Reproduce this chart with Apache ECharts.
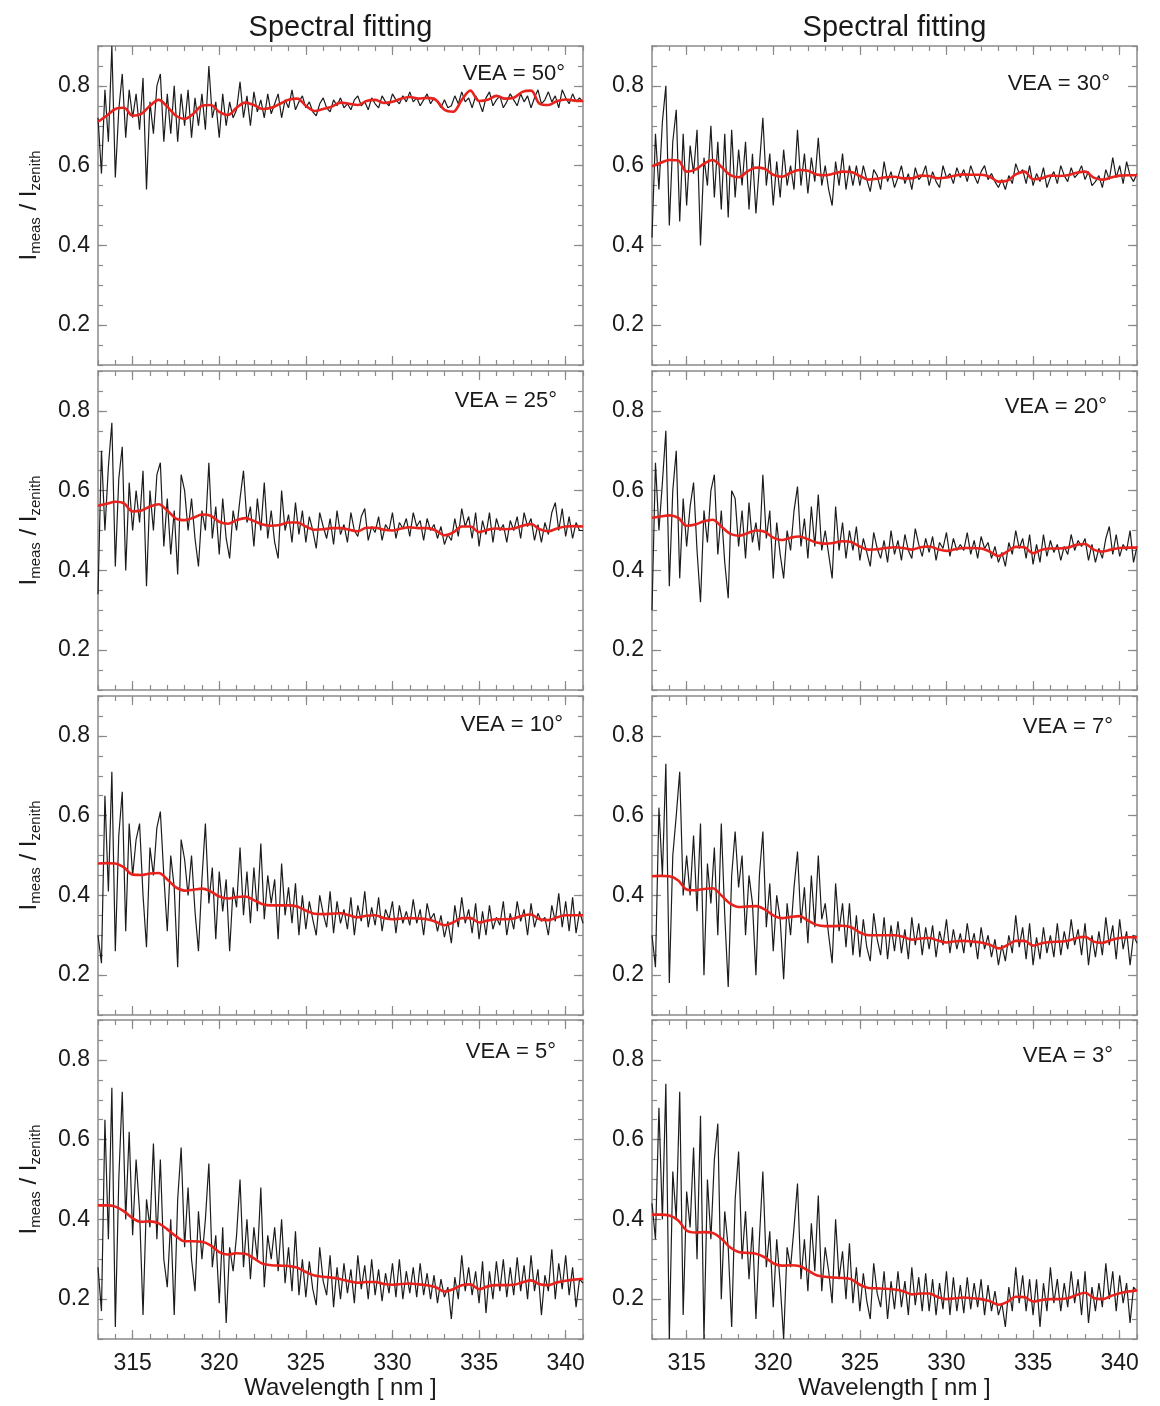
<!DOCTYPE html>
<html><head><meta charset="utf-8">
<script src="https://cdn.jsdelivr.net/npm/echarts@6/dist/echarts.min.js"></script>
<style>html,body{margin:0;padding:0;background:#fff}#chart{width:1160px;height:1406px}</style>
</head><body><div id="chart"></div>
<script>
// ---------------- data ----------------
const WL_MIN = 313, WL_MAX = 341;
const xTickValues = [315, 320, 325, 330, 335, 340];
const yTickValues = [0.2, 0.4, 0.6, 0.8];
const columnTitles = ['Spectral fitting', 'Spectral fitting'];
const veaAngles = [50, 30, 25, 20, 10, 7, 5, 3];
const measStart = 313, measStep = 0.2;   // wavelength grid of measured ratio
const fitStart = 313, fitStep = 0.5;     // wavelength grid of fitted ratio

const meas50 = [
0.72,0.58,0.79,0.66,0.9,0.57,0.74,0.83,0.67,0.79,
0.72,0.78,0.69,0.82,0.54,0.76,0.68,0.8,0.83,0.66,
0.78,0.68,0.8,0.66,0.78,0.7,0.79,0.67,0.77,0.7,
0.78,0.69,0.85,0.72,0.76,0.67,0.78,0.7,0.76,0.72,
0.74,0.81,0.72,0.775,0.7,0.785,0.735,0.765,0.72,0.78,
0.73,0.755,0.78,0.72,0.765,0.745,0.79,0.74,0.76,0.775,
0.745,0.76,0.735,0.725,0.755,0.77,0.745,0.735,0.765,0.75,
0.77,0.745,0.755,0.74,0.765,0.775,0.75,0.76,0.74,0.77,
0.755,0.745,0.775,0.76,0.75,0.78,0.765,0.755,0.775,0.76,
0.785,0.76,0.77,0.75,0.765,0.78,0.755,0.77,0.76,0.745,
0.765,0.745,0.75,0.775,0.755,0.785,0.76,0.77,0.745,0.775,
0.76,0.735,0.77,0.785,0.75,0.765,0.775,0.745,0.76,0.78,
0.765,0.75,0.78,0.76,0.775,0.745,0.77,0.79,0.755,0.765,
0.785,0.76,0.775,0.745,0.79,0.77,0.755,0.78,0.76,0.77,
0.76];
const meas30 = [
0.42,0.68,0.54,0.71,0.8,0.45,0.66,0.74,0.46,0.68,
0.5,0.65,0.58,0.69,0.4,0.62,0.55,0.7,0.52,0.66,
0.49,0.68,0.47,0.69,0.52,0.64,0.55,0.66,0.49,0.63,
0.48,0.6,0.72,0.55,0.63,0.5,0.61,0.52,0.64,0.55,
0.6,0.54,0.69,0.55,0.63,0.53,0.62,0.56,0.67,0.55,
0.6,0.54,0.5,0.61,0.55,0.63,0.54,0.6,0.55,0.6,
0.55,0.6,0.565,0.535,0.59,0.575,0.54,0.61,0.56,0.585,
0.545,0.57,0.6,0.555,0.58,0.54,0.595,0.565,0.575,0.6,
0.55,0.585,0.56,0.545,0.6,0.57,0.58,0.555,0.595,0.57,
0.59,0.56,0.6,0.575,0.555,0.585,0.6,0.565,0.58,0.56,
0.545,0.565,0.54,0.575,0.555,0.605,0.58,0.59,0.555,0.6,
0.55,0.58,0.56,0.595,0.545,0.57,0.585,0.555,0.6,0.575,
0.56,0.595,0.57,0.58,0.6,0.565,0.585,0.55,0.56,0.575,
0.545,0.59,0.565,0.62,0.57,0.6,0.555,0.61,0.575,0.56,
0.58];
const meas25 = [
0.34,0.7,0.5,0.66,0.77,0.41,0.63,0.71,0.4,0.62,
0.5,0.6,0.52,0.65,0.36,0.6,0.5,0.64,0.67,0.46,
0.58,0.44,0.55,0.39,0.64,0.6,0.5,0.58,0.48,0.41,
0.55,0.5,0.67,0.48,0.56,0.44,0.58,0.48,0.43,0.55,
0.5,0.58,0.65,0.52,0.56,0.46,0.58,0.5,0.62,0.48,
0.55,0.47,0.43,0.6,0.5,0.54,0.47,0.57,0.49,0.55,
0.47,0.535,0.5,0.455,0.545,0.51,0.48,0.53,0.465,0.55,
0.49,0.515,0.47,0.545,0.5,0.485,0.535,0.555,0.475,0.51,
0.495,0.535,0.475,0.515,0.5,0.545,0.48,0.52,0.505,0.53,
0.485,0.545,0.51,0.525,0.475,0.53,0.5,0.515,0.48,0.51,
0.465,0.49,0.475,0.53,0.485,0.555,0.51,0.535,0.48,0.545,
0.46,0.525,0.49,0.545,0.47,0.53,0.5,0.515,0.47,0.525,
0.5,0.535,0.48,0.545,0.51,0.53,0.475,0.515,0.47,0.52,
0.49,0.545,0.57,0.5,0.555,0.485,0.535,0.48,0.52,0.5,
0.5];
const meas20 = [
0.3,0.67,0.5,0.62,0.75,0.36,0.6,0.7,0.38,0.58,
0.46,0.56,0.62,0.45,0.32,0.55,0.47,0.6,0.64,0.44,
0.55,0.42,0.33,0.6,0.58,0.46,0.55,0.43,0.57,0.47,
0.52,0.45,0.64,0.48,0.55,0.38,0.52,0.44,0.38,0.5,
0.45,0.55,0.61,0.46,0.53,0.43,0.56,0.46,0.59,0.45,
0.5,0.44,0.38,0.56,0.45,0.52,0.43,0.5,0.45,0.51,
0.425,0.48,0.445,0.41,0.495,0.455,0.43,0.475,0.42,0.5,
0.44,0.475,0.425,0.49,0.45,0.43,0.505,0.465,0.435,0.48,
0.445,0.485,0.425,0.47,0.455,0.495,0.435,0.48,0.45,0.465,
0.45,0.495,0.44,0.475,0.43,0.485,0.455,0.47,0.43,0.46,
0.42,0.445,0.41,0.47,0.44,0.5,0.455,0.48,0.43,0.49,
0.415,0.465,0.42,0.49,0.435,0.475,0.445,0.465,0.425,0.46,
0.44,0.49,0.45,0.475,0.46,0.48,0.425,0.465,0.42,0.455,
0.43,0.48,0.51,0.44,0.49,0.435,0.465,0.45,0.5,0.42,
0.46];
const meas10 = [
0.3,0.23,0.65,0.41,0.71,0.26,0.55,0.66,0.31,0.58,
0.45,0.54,0.58,0.4,0.27,0.52,0.45,0.57,0.61,0.45,
0.31,0.5,0.42,0.22,0.54,0.49,0.4,0.5,0.36,0.26,
0.44,0.58,0.38,0.47,0.29,0.46,0.36,0.44,0.26,0.42,
0.37,0.52,0.35,0.46,0.33,0.47,0.36,0.53,0.34,0.45,
0.38,0.44,0.29,0.48,0.35,0.42,0.33,0.43,0.3,0.4,
0.315,0.385,0.34,0.3,0.4,0.355,0.32,0.41,0.305,0.385,
0.33,0.365,0.315,0.395,0.3,0.375,0.335,0.41,0.32,0.37,
0.325,0.395,0.31,0.365,0.34,0.385,0.305,0.375,0.33,0.36,
0.325,0.39,0.33,0.365,0.3,0.38,0.34,0.355,0.31,0.35,
0.295,0.335,0.28,0.375,0.32,0.395,0.33,0.365,0.305,0.38,
0.29,0.36,0.3,0.375,0.315,0.345,0.325,0.385,0.3,0.355,
0.315,0.385,0.335,0.365,0.3,0.38,0.32,0.355,0.335,0.345,
0.3,0.375,0.335,0.405,0.32,0.385,0.31,0.395,0.305,0.36,
0.33];
const meas7 = [
0.3,0.22,0.62,0.45,0.73,0.18,0.5,0.6,0.71,0.4,
0.5,0.4,0.55,0.36,0.58,0.2,0.48,0.38,0.52,0.3,
0.58,0.35,0.17,0.45,0.56,0.42,0.5,0.3,0.45,0.38,
0.2,0.45,0.56,0.32,0.43,0.26,0.4,0.34,0.19,0.38,
0.3,0.42,0.51,0.33,0.42,0.28,0.45,0.32,0.5,0.34,
0.38,0.3,0.23,0.43,0.31,0.38,0.27,0.38,0.25,0.35,
0.245,0.34,0.27,0.235,0.355,0.29,0.25,0.345,0.24,0.325,
0.26,0.335,0.255,0.315,0.24,0.345,0.275,0.33,0.25,0.32,
0.265,0.325,0.245,0.31,0.275,0.34,0.255,0.315,0.265,0.305,
0.255,0.33,0.27,0.305,0.24,0.32,0.265,0.3,0.245,0.29,
0.225,0.275,0.235,0.3,0.255,0.35,0.27,0.32,0.24,0.33,
0.225,0.295,0.24,0.32,0.255,0.3,0.245,0.33,0.25,0.31,
0.265,0.34,0.275,0.315,0.25,0.33,0.225,0.3,0.245,0.31,
0.25,0.345,0.275,0.325,0.24,0.34,0.265,0.31,0.225,0.3,
0.28];
const meas5 = [
0.28,0.17,0.65,0.35,0.73,0.13,0.5,0.72,0.4,0.62,
0.36,0.55,0.42,0.16,0.45,0.38,0.59,0.35,0.55,0.3,
0.23,0.4,0.16,0.45,0.58,0.33,0.48,0.3,0.22,0.42,
0.3,0.4,0.54,0.28,0.36,0.19,0.38,0.14,0.33,0.27,
0.36,0.5,0.28,0.4,0.25,0.38,0.3,0.48,0.23,0.36,
0.3,0.38,0.27,0.4,0.24,0.33,0.22,0.37,0.21,0.3,
0.205,0.295,0.225,0.185,0.33,0.245,0.21,0.31,0.18,0.28,
0.2,0.29,0.215,0.275,0.19,0.31,0.225,0.285,0.2,0.3,
0.21,0.275,0.195,0.265,0.215,0.29,0.205,0.3,0.2,0.27,
0.215,0.28,0.205,0.29,0.21,0.265,0.2,0.26,0.19,0.25,
0.205,0.23,0.15,0.255,0.2,0.31,0.22,0.28,0.21,0.27,
0.19,0.295,0.165,0.27,0.2,0.295,0.22,0.3,0.205,0.28,
0.21,0.305,0.22,0.285,0.2,0.31,0.22,0.275,0.16,0.26,
0.22,0.325,0.2,0.29,0.225,0.31,0.21,0.28,0.18,0.25,
0.24];
const meas3 = [
0.44,0.35,0.68,0.4,0.74,0.1,0.52,0.4,0.72,0.16,
0.47,0.38,0.58,0.3,0.66,0.1,0.5,0.35,0.55,0.64,
0.2,0.42,0.33,0.13,0.45,0.57,0.3,0.42,0.25,0.38,
0.15,0.35,0.52,0.28,0.37,0.18,0.35,0.24,0.1,0.33,
0.28,0.38,0.49,0.25,0.35,0.22,0.39,0.27,0.46,0.22,
0.33,0.27,0.19,0.4,0.25,0.32,0.2,0.34,0.19,0.28,
0.17,0.265,0.195,0.15,0.29,0.215,0.18,0.27,0.15,0.245,
0.175,0.27,0.18,0.245,0.16,0.28,0.185,0.255,0.17,0.265,
0.17,0.25,0.16,0.24,0.175,0.27,0.16,0.255,0.17,0.235,
0.165,0.255,0.175,0.24,0.18,0.25,0.16,0.235,0.17,0.22,
0.16,0.19,0.13,0.23,0.17,0.28,0.19,0.26,0.17,0.25,
0.16,0.25,0.13,0.24,0.17,0.28,0.19,0.25,0.17,0.24,
0.18,0.27,0.19,0.25,0.16,0.27,0.14,0.23,0.17,0.24,
0.18,0.29,0.2,0.27,0.17,0.26,0.19,0.24,0.14,0.23,
0.22];

const fit50 = [
0.71,0.725,0.742,0.745,0.725,0.73,0.75,0.765,0.748,0.725,
0.717,0.73,0.75,0.752,0.735,0.727,0.745,0.758,0.752,0.742,
0.745,0.755,0.765,0.768,0.75,0.737,0.742,0.748,0.758,0.755,
0.752,0.762,0.765,0.757,0.76,0.768,0.772,0.768,0.77,0.765,
0.74,0.735,0.765,0.788,0.762,0.765,0.775,0.768,0.77,0.785,
0.788,0.755,0.752,0.762,0.766,0.763,0.762];
const fit30 = [
0.598,0.607,0.614,0.613,0.585,0.59,0.605,0.614,0.597,0.577,
0.571,0.585,0.595,0.592,0.577,0.572,0.582,0.589,0.587,0.578,
0.576,0.58,0.585,0.584,0.574,0.565,0.567,0.571,0.572,0.568,
0.568,0.575,0.574,0.568,0.57,0.575,0.578,0.577,0.577,0.572,
0.56,0.562,0.578,0.585,0.566,0.568,0.575,0.574,0.576,0.582,
0.585,0.57,0.565,0.57,0.575,0.576,0.576];
const fit25 = [
0.562,0.567,0.572,0.568,0.548,0.55,0.56,0.566,0.55,0.53,
0.526,0.532,0.54,0.537,0.522,0.517,0.526,0.531,0.524,0.515,
0.512,0.514,0.52,0.52,0.51,0.502,0.503,0.506,0.506,0.502,
0.498,0.507,0.507,0.502,0.5,0.505,0.508,0.506,0.506,0.5,
0.488,0.495,0.51,0.51,0.496,0.502,0.505,0.503,0.505,0.512,
0.516,0.503,0.498,0.505,0.51,0.511,0.51];
const fit20 = [
0.532,0.535,0.538,0.532,0.512,0.515,0.523,0.527,0.51,0.492,
0.487,0.493,0.5,0.497,0.482,0.476,0.482,0.485,0.478,0.47,
0.467,0.469,0.473,0.471,0.46,0.452,0.453,0.456,0.458,0.456,
0.452,0.458,0.46,0.453,0.449,0.453,0.456,0.456,0.455,0.447,
0.436,0.447,0.459,0.458,0.443,0.452,0.455,0.455,0.457,0.464,
0.466,0.452,0.447,0.452,0.456,0.457,0.457];
const fit10 = [
0.48,0.481,0.48,0.47,0.452,0.451,0.455,0.456,0.44,0.42,
0.412,0.414,0.417,0.41,0.397,0.392,0.396,0.397,0.388,0.378,
0.375,0.375,0.375,0.372,0.362,0.354,0.353,0.354,0.355,0.35,
0.345,0.349,0.35,0.343,0.34,0.342,0.343,0.342,0.34,0.334,
0.325,0.332,0.343,0.343,0.332,0.337,0.34,0.34,0.342,0.349,
0.352,0.34,0.338,0.345,0.35,0.35,0.35];
const fit7 = [
0.448,0.449,0.448,0.438,0.415,0.413,0.416,0.418,0.4,0.38,
0.371,0.372,0.373,0.365,0.35,0.343,0.346,0.348,0.337,0.326,
0.323,0.323,0.324,0.32,0.307,0.3,0.3,0.3,0.3,0.296,
0.289,0.292,0.293,0.287,0.282,0.285,0.286,0.284,0.282,0.276,
0.267,0.275,0.286,0.286,0.274,0.28,0.283,0.284,0.286,0.293,
0.296,0.284,0.281,0.288,0.293,0.295,0.295];
const fit5 = [
0.435,0.435,0.432,0.42,0.403,0.394,0.395,0.39,0.375,0.358,
0.345,0.345,0.344,0.335,0.318,0.312,0.315,0.314,0.302,0.289,
0.285,0.284,0.283,0.279,0.268,0.259,0.256,0.254,0.25,0.245,
0.241,0.243,0.243,0.238,0.236,0.238,0.239,0.237,0.235,0.23,
0.219,0.225,0.235,0.237,0.225,0.232,0.235,0.235,0.236,0.242,
0.247,0.237,0.235,0.242,0.246,0.249,0.251];
const fit3 = [
0.412,0.412,0.41,0.398,0.372,0.367,0.368,0.366,0.352,0.33,
0.318,0.316,0.314,0.305,0.29,0.284,0.285,0.283,0.272,0.26,
0.256,0.254,0.253,0.25,0.236,0.228,0.227,0.226,0.224,0.22,
0.212,0.214,0.214,0.205,0.2,0.202,0.204,0.202,0.2,0.195,
0.186,0.193,0.206,0.205,0.194,0.198,0.2,0.2,0.202,0.21,
0.216,0.203,0.2,0.208,0.215,0.219,0.222];

const measured = [meas50, meas30, meas25, meas20, meas10, meas7, meas5, meas3];
const fitted = [fit50, fit30, fit25, fit20, fit10, fit7, fit5, fit3];

// ---------------- layout / style ----------------
const FONT = '"Liberation Sans", Arial, Helvetica, sans-serif';
const TXT = '#1a1a1a';
const FRAME = '#8a8a8a';
const colLeft = [98, 652];
const gridW = 485;
const rowTop = [46, 371, 696, 1020];
const gridH = 319;
// VEA label placement (right inset, top inset) per panel
const veaInset = [[18,17],[27,27],[26,19],[30,25],[20,18],[24,20],[27,21],[24,25]];

const grids = [], xAxes = [], yAxes = [], series = [], graphics = [];

function wl(start, step, i) { return Math.round((start + step * i) * 100) / 100; }

for (let p = 0; p < 8; p++) {
  const row = Math.floor(p / 2), col = p % 2;
  const left = colLeft[col], top = rowTop[row];
  grids.push({ left: left, top: top, width: gridW, height: gridH, containLabel: false });
  const bottomRow = row === 3;
  const lineStyle = { color: FRAME, width: 1.5 };
  const tickStyle = { color: FRAME, width: 1.2 };
  const xBase = { gridIndex: p, type: 'value', min: WL_MIN, max: WL_MAX, splitLine: { show: false } };
  const yBase = { gridIndex: p, type: 'value', min: 0.1, max: 0.9, splitLine: { show: false } };
  const labelStyle = { fontFamily: FONT, fontSize: 23, color: TXT };
  xAxes.push(
    Object.assign({}, xBase, {
      position: 'bottom',
      axisLine: { onZero: false, lineStyle: lineStyle },
      axisTick: { inside: true, length: 9, customValues: xTickValues, lineStyle: tickStyle },
      axisLabel: Object.assign({ show: bottomRow, customValues: xTickValues, margin: 13 }, labelStyle),
      name: bottomRow ? 'Wavelength [ nm ]' : '',
      nameLocation: 'middle', nameGap: 37,
      nameTextStyle: { fontFamily: FONT, fontSize: 24, color: TXT }
    }),
    Object.assign({}, xBase, {
      position: 'bottom', interval: 1,
      axisLine: { show: false },
      axisTick: { inside: true, length: 5, lineStyle: tickStyle },
      axisLabel: { show: false }
    }),
    Object.assign({}, xBase, {
      position: 'top',
      axisLine: { onZero: false, lineStyle: lineStyle },
      axisTick: { inside: true, length: 9, customValues: xTickValues, lineStyle: tickStyle },
      axisLabel: { show: false }
    }),
    Object.assign({}, xBase, {
      position: 'top', interval: 1,
      axisLine: { show: false },
      axisTick: { inside: true, length: 5, lineStyle: tickStyle },
      axisLabel: { show: false }
    })
  );
  yAxes.push(
    Object.assign({}, yBase, {
      position: 'left',
      axisLine: { onZero: false, lineStyle: lineStyle },
      axisTick: { inside: true, length: 9, customValues: yTickValues, lineStyle: tickStyle },
      axisLabel: Object.assign({ customValues: yTickValues, margin: 8 }, labelStyle),
      name: col === 0 ? '{m|I}{s|meas}{m| / I}{s|zenith}' : '',
      nameLocation: 'middle', nameRotate: 90, nameGap: 55,
      nameTextStyle: {
        fontFamily: FONT, fontSize: 24, color: TXT,
        rich: {
          m: { fontFamily: FONT, fontSize: 24, color: TXT, lineHeight: 28, verticalAlign: 'middle' },
          s: { fontFamily: FONT, fontSize: 15, color: TXT, lineHeight: 15, verticalAlign: 'bottom' }
        }
      }
    }),
    Object.assign({}, yBase, {
      position: 'left', interval: 0.05,
      axisLine: { show: false },
      axisTick: { inside: true, length: 5, lineStyle: tickStyle },
      axisLabel: { show: false }
    }),
    Object.assign({}, yBase, {
      position: 'right',
      axisLine: { onZero: false, lineStyle: lineStyle },
      axisTick: { inside: true, length: 9, customValues: yTickValues, lineStyle: tickStyle },
      axisLabel: { show: false }
    }),
    Object.assign({}, yBase, {
      position: 'right', interval: 0.05,
      axisLine: { show: false },
      axisTick: { inside: true, length: 5, lineStyle: tickStyle },
      axisLabel: { show: false }
    })
  );
  series.push({
    type: 'line', xAxisIndex: 4 * p, yAxisIndex: 4 * p,
    data: measured[p].map((v, i) => [wl(measStart, measStep, i), v]),
    showSymbol: false, symbol: 'none', animation: false, z: 2,
    lineStyle: { color: '#1c1c1c', width: 1.2 }
  });
  series.push({
    type: 'line', xAxisIndex: 4 * p, yAxisIndex: 4 * p,
    data: fitted[p].map((v, i) => [wl(fitStart, fitStep, i), v]),
    showSymbol: false, symbol: 'none', animation: false, smooth: 0.35, z: 3,
    lineStyle: { color: '#e8231d', width: 2.6 }
  });
  graphics.push({
    type: 'text', x: left + gridW - veaInset[p][0], y: top + veaInset[p][1], z: 10,
    style: { text: 'VEA = ' + veaAngles[p] + '°', fontFamily: FONT, fontSize: 22, fill: TXT,
      align: 'right', verticalAlign: 'top', textAlign: 'right', textVerticalAlign: 'top' }
  });
}
for (let c = 0; c < 2; c++) {
  graphics.push({
    type: 'text', x: colLeft[c] + gridW / 2, y: 13, z: 10,
    style: { text: columnTitles[c], fontFamily: FONT, fontSize: 29, fill: TXT,
      align: 'center', verticalAlign: 'top', textAlign: 'center', textVerticalAlign: 'top' }
  });
}

const chart = echarts.init(document.getElementById('chart'), null, { renderer: 'canvas' });
chart.setOption({
  backgroundColor: '#ffffff',
  animation: false,
  grid: grids,
  xAxis: xAxes,
  yAxis: yAxes,
  series: series,
  graphic: graphics
});
</script>
</body></html>
